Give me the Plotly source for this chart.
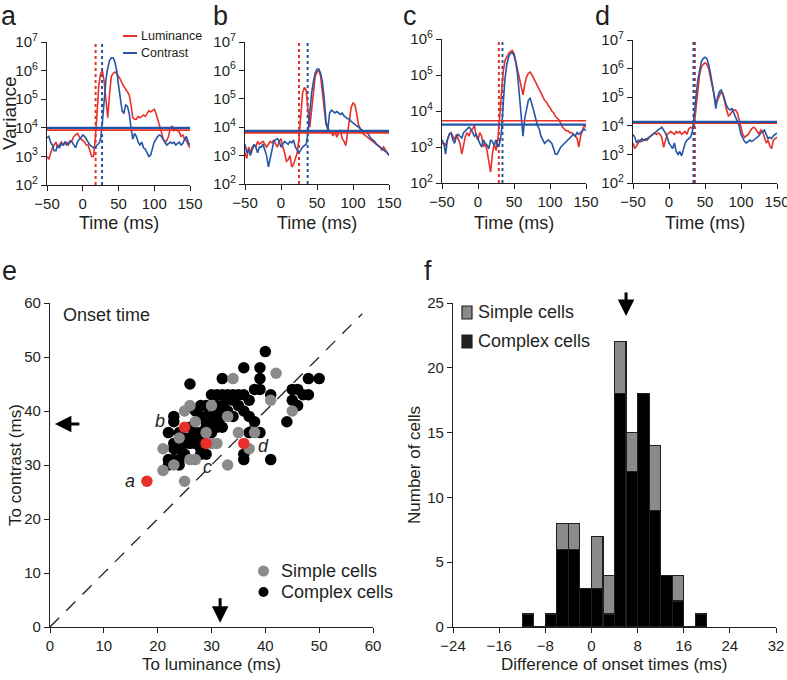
import numpy as np
import plotly.graph_objects as go

W, H = 787, 680
TXT = "#231f20"
RED = "#e8302a"
BLUE = "#2456a6"
GRAY = "#8a8a8a"
FONT = "Liberation Sans, Arial, Helvetica, sans-serif"

# ---------------- data: panels a-d (log10 variance, sampled every 2.5 ms) ----------------
TIME_MS = np.arange(-50, 150.01, 2.5)

LUM_A = [3.0, 2.9, 3.1, 3.3, 3.4, 3.5, 3.3, 3.4, 3.5, 3.4,
         3.45, 3.5, 3.4, 3.5, 3.55, 3.7, 3.75, 3.8, 3.7, 3.6,
         3.55, 3.5, 3.4, 3.4, 3.2, 3.0, 3.0, 3.6, 4.5, 5.5,
         5.9, 6.0, 5.6, 4.9, 4.35, 5.2, 5.8, 5.9, 5.95, 5.9,
         5.8, 5.7, 5.55, 5.45, 5.35, 5.25, 5.15, 4.8, 4.35, 4.3,
         4.3, 4.4, 4.35, 4.4, 4.45, 4.4, 4.5, 4.6, 4.55, 4.6,
         4.65, 4.5, 4.3, 4.1, 3.85, 3.6, 3.5, 3.55, 3.7, 4.0,
         4.05, 3.9, 3.95, 3.9, 3.85, 3.7, 3.75, 3.6, 3.55, 3.4,
         3.3]
CON_A = [3.65, 3.7, 3.5, 3.4, 3.2, 3.2, 3.4, 3.3, 3.45, 3.4,
         3.5, 3.4, 3.45, 3.55, 3.5, 3.4, 3.3, 3.5, 3.6, 3.65,
         3.75, 3.7, 3.6, 3.5, 3.4, 3.35, 3.3, 3.3, 3.4, 3.45,
         3.6, 4.2, 5.0, 5.7, 6.1, 6.35, 6.45, 6.45, 6.3, 6.0,
         5.5, 5.0, 4.6, 4.5, 4.8, 4.75, 4.5, 4.0, 3.6, 3.8,
         3.7, 3.5, 3.4, 3.5, 3.3, 3.25, 3.1, 3.0, 3.05, 3.3,
         3.5, 3.6, 3.7, 3.75, 3.7, 3.6, 3.5, 3.4, 3.45, 3.5,
         3.45, 3.5, 3.4, 3.45, 3.5, 3.4, 3.45, 3.6, 3.7, 3.5,
         3.4]
LUM_B = [3.1, 2.9, 3.3, 3.1, 3.3, 3.35, 3.3, 3.5, 3.4, 3.45,
         3.5, 3.4, 3.3, 3.4, 3.5, 3.45, 3.55, 3.4, 3.3, 3.5,
         3.6, 3.3, 3.1, 2.8, 2.85, 3.0, 2.6, 2.7, 2.9, 3.1,
         3.6, 4.5, 5.2, 5.4, 5.3, 4.6, 4.0, 4.6, 5.3, 5.8,
         5.95, 6.0, 5.8, 5.2, 4.6, 4.1, 4.0, 3.85, 3.8, 3.7,
         3.85, 3.65, 3.8, 3.9, 3.6, 3.5, 3.35, 3.8, 4.4, 4.7,
         4.85, 4.8, 4.5, 4.1, 3.95, 3.8, 3.75, 3.7, 3.65, 3.6,
         3.55, 3.5, 3.45, 3.4, 3.35, 3.3, 3.2, 3.3, 3.2, 3.1,
         3.05]
CON_B = [3.4, 3.1, 3.2, 3.0, 3.2, 3.4, 3.3, 3.1, 3.3, 3.3,
         3.4, 3.2, 3.0, 2.6, 2.9, 3.3, 3.5, 3.55, 3.6, 3.5,
         3.3, 3.4, 3.5, 3.45, 3.4, 3.5, 3.45, 3.55, 3.3, 3.2,
         3.1, 3.2, 3.3, 3.35, 3.4, 3.8, 4.5, 5.2, 5.6, 5.9,
         6.05, 6.05, 5.9, 5.6, 5.0, 4.2, 3.9, 4.5, 4.6, 4.55,
         4.5, 4.55, 4.5, 4.45, 4.5, 4.4, 4.35, 4.3, 4.3, 4.2,
         4.15, 4.1, 4.05, 4.0, 3.95, 3.9, 3.85, 3.85, 3.8, 3.7,
         3.6, 3.55, 3.5, 3.4, 3.35, 3.3, 3.25, 3.2, 3.15, 3.1,
         3.0]
LUM_C = [3.1, 3.1, 3.05, 3.2, 3.35, 3.4, 3.3, 3.2, 3.35, 3.2,
         3.1, 2.8, 3.1, 3.3, 3.4, 3.3, 3.45, 3.5, 3.6, 3.3,
         3.2, 3.4, 3.3, 3.0, 3.1, 2.9, 2.6, 2.3, 2.8, 3.1,
         2.9, 3.2, 3.8, 4.6, 5.1, 5.4, 5.5, 5.6, 5.65, 5.68,
         5.6, 5.35, 5.15, 4.9, 4.6, 4.45, 4.75, 4.95, 5.05, 5.08,
         5.0, 4.9, 4.8, 4.7, 4.6, 4.5, 4.4, 4.3, 4.25, 4.15,
         4.1, 4.0, 3.95, 3.85, 3.8, 3.75, 3.65, 3.55, 3.5, 3.45,
         3.45, 3.4, 3.4, 3.35, 3.3, 3.25, 3.0, 3.3, 3.45, 3.6,
         3.55]
CON_C = [3.2, 3.1, 2.8, 3.2, 3.35, 3.4, 3.2, 3.1, 3.3, 3.35,
         3.3, 3.25, 3.4, 3.45, 3.5, 3.55, 3.5, 3.4, 3.3, 3.35,
         3.2, 3.1, 3.0, 3.2, 3.1, 3.05, 2.95, 3.2, 3.15, 3.05,
         3.2, 3.0, 3.1, 3.4, 4.2, 4.9, 5.3, 5.5, 5.6, 5.62,
         5.55, 5.35, 5.0, 4.5, 3.9, 3.3, 3.8, 4.1, 4.3, 4.35,
         4.2, 4.0, 3.8, 3.6, 3.5, 3.3, 3.2, 3.1, 3.15, 3.2,
         3.15, 3.1, 2.95, 2.8, 2.8, 2.9, 3.0, 3.05, 3.1, 3.15,
         3.2, 3.25, 3.3, 3.35, 3.3, 3.4, 3.35, 3.4, 3.45, 3.5,
         3.45]
LUM_D = [3.4, 3.2, 3.3, 3.4, 3.5, 3.45, 3.5, 3.55, 3.5, 3.6,
         3.65, 3.7, 3.75, 3.7, 3.75, 3.7, 3.6, 3.25, 3.5, 3.7,
         3.75, 3.8, 3.75, 3.7, 3.8, 3.75, 3.8, 3.7, 3.75, 3.8,
         3.7, 3.9, 3.95, 3.9, 4.0, 4.6, 5.3, 5.8, 6.05, 6.15,
         6.2, 6.15, 6.0, 5.7, 5.3, 5.0, 4.8, 4.9, 5.05, 5.2,
         5.1, 4.8, 4.55, 4.35, 4.4, 4.5, 4.55, 4.55, 4.45, 4.2,
         3.95, 3.7, 3.6, 3.65, 3.7, 3.8, 3.9, 3.95, 3.9, 3.8,
         3.7, 3.85, 3.8, 3.6, 3.4, 3.5, 3.3, 3.2, 3.5, 3.55,
         3.6]
CON_D = [3.7, 3.6, 3.4, 3.5, 3.45, 3.55, 3.5, 3.5, 3.55, 3.6,
         3.65, 3.7, 3.75, 3.8, 3.85, 3.9, 3.95, 3.85, 3.75, 3.6,
         3.4, 3.3, 3.2, 3.4, 3.1, 3.0, 3.1, 2.95, 3.2, 3.4,
         3.5, 3.55, 3.6, 3.8, 4.3, 5.0, 5.6, 6.0, 6.25, 6.35,
         6.4, 6.35, 6.15, 5.85, 5.5, 5.1, 4.6, 5.0, 5.2, 5.25,
         5.1, 4.9, 4.7, 4.6, 4.55, 4.6, 4.45, 4.35, 4.2, 4.0,
         3.7, 3.55, 3.45, 3.4, 3.45, 3.5, 3.45, 3.5, 3.55, 3.6,
         3.65, 3.75, 3.8, 3.85, 3.7, 3.55, 3.6, 3.55, 3.65, 3.7,
         3.75]

THRESH_LUM = [3.92, 3.80, 3.73, 4.09]   # log10 variance
THRESH_CON = [4.00, 3.87, 3.62, 4.14]
ONSET_LUM = [18, 25, 29, 36]            # ms
ONSET_CON = [27, 37, 34, 34]
PANEL_YMAX = [7, 7, 6, 7]               # log10 upper limit
PANEL_NAMES = ["a", "b", "c", "d"]

# ---------------- data: panel e (onset times, ms) ----------------
SIMPLE_LUM = [25, 21, 21, 23, 24, 25, 26, 27, 26, 27, 29, 30, 30, 31, 33, 34, 33, 35, 37, 38, 41, 42, 45]
SIMPLE_CON = [27, 29, 33, 30, 35, 40, 41, 38, 31, 31, 36, 41, 34, 34, 39, 46, 30, 36, 33, 36, 42, 47, 40]
COMPLEX_LUM = [26, 32, 36, 39, 39, 40, 38, 39,
               30, 31, 32, 33, 34, 35, 36, 37, 35, 33, 34,
               29, 28, 27, 28, 29, 34, 37, 38, 32, 31,
               23, 23, 22, 26, 27, 31, 30, 37, 39,
               26, 28, 23, 24, 26, 27, 28, 29, 25, 24, 22, 22, 24,
               36, 36, 41, 41, 45, 46, 47, 48, 48, 50, 45, 46, 44,
               30, 32, 29, 30, 31, 31, 32, 29, 28, 25, 27, 28, 25, 24, 23, 23, 32, 33, 36]
COMPLEX_CON = [45, 46, 48, 48, 46, 51, 44, 44,
               43, 43, 43, 43, 43, 43, 43, 42, 41, 42, 42,
               41, 41, 40, 39, 39, 39, 39, 38, 39, 38,
               39, 38, 36, 37, 36, 37, 36, 36, 36,
               35, 35, 33, 33, 34, 34, 33, 32, 32, 31, 31, 30, 30,
               32, 31, 31, 43, 44, 44, 43, 43, 46, 46, 42, 41, 38,
               38, 40, 38, 39, 40, 41, 41, 37, 36, 34, 35, 32, 35, 36, 34, 31, 37, 40, 40]
EXAMPLE_LABELS = ["a", "b", "c", "d"]
EXAMPLE_LABEL_X = [14.9, 20.4, 29.2, 39.6]
EXAMPLE_LABEL_Y = [27.0, 38.1, 29.6, 33.5]
MEAN_ONSET_LUM = 31.6
MEAN_ONSET_CON = 37.6

# ---------------- data: panel f (histogram, 2 ms bins) ----------------
BIN_LEFT = [-12, -10, -8, -6, -4, -2, 0, 2, 4, 6, 8, 10, 12, 14, 16, 18]
COMPLEX_COUNT = [1, 0, 1, 6, 6, 3, 3, 1, 18, 12, 18, 9, 4, 2, 0, 1]
SIMPLE_COUNT = [0, 0, 0, 2, 2, 0, 4, 3, 4, 3, 0, 5, 0, 2, 0, 0]
BIN_WIDTH = 2
MEAN_DIFF = 6.0


def px(x):
    return x / W


def py(y):
    return 1 - y / H


fig = go.Figure()

LUMS = [LUM_A, LUM_B, LUM_C, LUM_D]
CONS = [CON_A, CON_B, CON_C, CON_D]
for i in range(4):
    xa = "x" if i == 0 else f"x{i+1}"
    ya = "y" if i == 0 else f"y{i+1}"
    top = 10 ** PANEL_YMAX[i]
    fig.add_trace(go.Scatter(x=[ONSET_LUM[i], ONSET_LUM[i]], y=[100, top], mode="lines",
                             line=dict(color=RED, width=2, dash="dot"), xaxis=xa, yaxis=ya,
                             showlegend=False, hoverinfo="skip"))
    fig.add_trace(go.Scatter(x=[ONSET_CON[i], ONSET_CON[i]], y=[100, top], mode="lines",
                             line=dict(color=BLUE, width=2, dash="dot"), xaxis=xa, yaxis=ya,
                             showlegend=False, hoverinfo="skip"))
    fig.add_trace(go.Scatter(x=TIME_MS, y=[10 ** v for v in LUMS[i]], mode="lines",
                             line=dict(color=RED, width=1.6), xaxis=xa, yaxis=ya,
                             name="Luminance", showlegend=False))
    fig.add_trace(go.Scatter(x=TIME_MS, y=[10 ** v for v in CONS[i]], mode="lines",
                             line=dict(color=BLUE, width=1.6), xaxis=xa, yaxis=ya,
                             name="Contrast", showlegend=False))
    fig.add_trace(go.Scatter(x=[-50, 150], y=[10 ** THRESH_LUM[i]] * 2, mode="lines",
                             line=dict(color=RED, width=1.6), xaxis=xa, yaxis=ya,
                             showlegend=False, hoverinfo="skip"))
    fig.add_trace(go.Scatter(x=[-50, 150], y=[10 ** THRESH_CON[i]] * 2, mode="lines",
                             line=dict(color=BLUE, width=2.2), xaxis=xa, yaxis=ya,
                             showlegend=False, hoverinfo="skip"))

# panel e
fig.add_trace(go.Scatter(x=[0, 58], y=[0, 58], mode="lines",
                         line=dict(color=TXT, width=1.3, dash="13px,10px"),
                         xaxis="x5", yaxis="y5", showlegend=False, hoverinfo="skip"))
fig.add_trace(go.Scatter(x=COMPLEX_LUM, y=COMPLEX_CON, mode="markers",
                         marker=dict(color="#000000", size=11.5), name="Complex cells",
                         xaxis="x5", yaxis="y5", showlegend=False))
fig.add_trace(go.Scatter(x=SIMPLE_LUM, y=SIMPLE_CON, mode="markers",
                         marker=dict(color=GRAY, size=11.5), name="Simple cells",
                         xaxis="x5", yaxis="y5", showlegend=False))
fig.add_trace(go.Scatter(x=ONSET_LUM, y=ONSET_CON, mode="markers",
                         marker=dict(color=RED, size=11.5), name="Examples",
                         xaxis="x5", yaxis="y5", showlegend=False))

# panel f
centers = [b + BIN_WIDTH / 2 for b in BIN_LEFT]
fig.add_trace(go.Bar(x=centers, y=COMPLEX_COUNT, width=BIN_WIDTH, name="Complex cells",
                     marker=dict(color="#000000", line=dict(color=TXT, width=1.2)),
                     xaxis="x6", yaxis="y6", showlegend=False))
fig.add_trace(go.Bar(x=centers, y=SIMPLE_COUNT, width=BIN_WIDTH, name="Simple cells",
                     marker=dict(color=GRAY, line=dict(color=TXT, width=1.2)),
                     xaxis="x6", yaxis="y6", showlegend=False))

axis_common = dict(showline=True, linecolor=TXT, linewidth=1.3, ticks="outside", ticklen=5,
                   tickwidth=1.3, tickcolor=TXT, showgrid=False, zeroline=False,
                   tickfont=dict(size=15, color=TXT, family=FONT), automargin=False,
                   ticklabeloverflow="allow")

top_x = [(47, 190), (245, 389), (442, 586), (633, 777)]
top_y = [(42, 185), (42, 184), (39, 183), (40, 183)]
layout = dict(width=W, height=H, margin=dict(l=0, r=0, t=0, b=0),
              paper_bgcolor="white", plot_bgcolor="white", barmode="stack",
              font=dict(family=FONT, color=TXT), showlegend=False)
for i in range(4):
    xk = "xaxis" if i == 0 else f"xaxis{i+1}"
    yk = "yaxis" if i == 0 else f"yaxis{i+1}"
    ya = "y" if i == 0 else f"y{i+1}"
    xa = "x" if i == 0 else f"x{i+1}"
    layout[xk] = dict(axis_common, domain=[px(top_x[i][0]), px(top_x[i][1])], anchor=ya,
                      range=[-50, 150], tickvals=[-50, 0, 50, 100, 150])
    ticks = list(range(2, PANEL_YMAX[i] + 1))
    layout[yk] = dict(axis_common, domain=[py(top_y[i][1]), py(top_y[i][0])], anchor=xa,
                      type="log", range=[2, PANEL_YMAX[i]],
                      tickvals=[10 ** k for k in ticks],
                      ticktext=[f"10<sup>{k}</sup>" for k in ticks])

layout["xaxis5"] = dict(axis_common, domain=[px(50), px(373)], anchor="y5", range=[0, 60], dtick=10)
layout["yaxis5"] = dict(axis_common, domain=[py(627), py(303)], anchor="x5", range=[0, 60], dtick=10)
layout["xaxis6"] = dict(axis_common, domain=[px(453), px(776)], anchor="y6", range=[-24, 32],
                        tickvals=list(range(-24, 33, 8)))
layout["yaxis6"] = dict(axis_common, domain=[py(627), py(303)], anchor="x6", range=[0, 25], dtick=5)
fig.update_layout(**layout)


def paper_text(text, x, y, size, xanchor="center", angle=0):
    return dict(text=text, x=px(x), y=py(y), xref="paper", yref="paper", showarrow=False,
                xanchor=xanchor, yanchor="middle", textangle=angle,
                font=dict(size=size, color=TXT, family=FONT))


ann = []
# panel letters
for letter, x, y in [("a", 9, 16), ("b", 220, 16), ("c", 410, 16), ("d", 602, 16),
                     ("e", 9, 271), ("f", 428, 271)]:
    ann.append(paper_text(letter, x, y, 27))
# axis titles
for (x0, x1) in top_x:
    ann.append(paper_text("Time (ms)", (x0 + x1) / 2, 223, 18))
ann.append(paper_text("Variance", 10, 113, 19, angle=-90))
ann.append(paper_text("To luminance (ms)", 211, 664, 17))
ann.append(paper_text("To contrast (ms)", 15, 465, 17, angle=-90))
ann.append(paper_text("Difference of onset times (ms)", 614, 664, 17))
ann.append(paper_text("Number of cells", 414, 465, 17, angle=-90))
# panel a legend
ann.append(paper_text("Luminance", 139, 36, 12.5, xanchor="left"))
ann.append(paper_text("Contrast", 139, 53, 12.5, xanchor="left"))
# panel e labels
ann.append(dict(text="Onset time", x=2, y=60, xref="x5", yref="y5", showarrow=False,
                xanchor="left", yanchor="top", font=dict(size=18, color=TXT)))
for lab, xl, yl in zip(EXAMPLE_LABELS, EXAMPLE_LABEL_X, EXAMPLE_LABEL_Y):
    ann.append(dict(text=f"<i>{lab}</i>", x=xl, y=yl, xref="x5", yref="y5", showarrow=False,
                    xanchor="center", yanchor="middle", font=dict(size=18, color=TXT)))
ann.append(paper_text("Simple cells", 279, 571, 18, xanchor="left"))
ann.append(paper_text("Complex cells", 279, 592, 18, xanchor="left"))
# arrows
ann.append(dict(x=MEAN_ONSET_LUM, y=0.8, xref="x5", yref="y5", ax=0, ay=-26, showarrow=True,
                arrowhead=2, arrowsize=1.1, arrowwidth=3, arrowcolor="#000", text=""))
ann.append(dict(x=0.9, y=MEAN_ONSET_CON, xref="x5", yref="y5", ax=26, ay=0, showarrow=True,
                arrowhead=2, arrowsize=1.1, arrowwidth=3, arrowcolor="#000", text=""))
ann.append(dict(x=MEAN_DIFF, y=24.0, xref="x6", yref="y6", ax=0, ay=-25, showarrow=True,
                arrowhead=2, arrowsize=1.1, arrowwidth=3, arrowcolor="#000", text=""))
# panel f legend
ann.append(paper_text("Simple cells", 476, 312, 18, xanchor="left"))
ann.append(paper_text("Complex cells", 476, 341, 18, xanchor="left"))

shapes = [
    dict(type="line", xref="paper", yref="paper", x0=px(123), x1=px(137), y0=py(36), y1=py(36),
         line=dict(color=RED, width=2)),
    dict(type="line", xref="paper", yref="paper", x0=px(123), x1=px(137), y0=py(53), y1=py(53),
         line=dict(color=BLUE, width=2)),
    dict(type="circle", xref="paper", yref="paper", x0=px(258), x1=px(269), y0=py(576.5), y1=py(565.5),
         fillcolor=GRAY, line=dict(width=0)),
    dict(type="circle", xref="paper", yref="paper", x0=px(258.5), x1=px(268.5), y0=py(597), y1=py(587),
         fillcolor="#000", line=dict(width=0)),
    dict(type="rect", xref="paper", yref="paper", x0=px(462), x1=px(472), y0=py(319), y1=py(306),
         fillcolor=GRAY, line=dict(color=TXT, width=1.2)),
    dict(type="rect", xref="paper", yref="paper", x0=px(462), x1=px(472), y0=py(348), y1=py(335),
         fillcolor="#231f20", line=dict(color=TXT, width=1.2)),
]
fig.update_layout(annotations=ann, shapes=shapes)

fig.write_html("out.html", config={"displayModeBar": False},
               post_script="document.body.style.margin='0';")
